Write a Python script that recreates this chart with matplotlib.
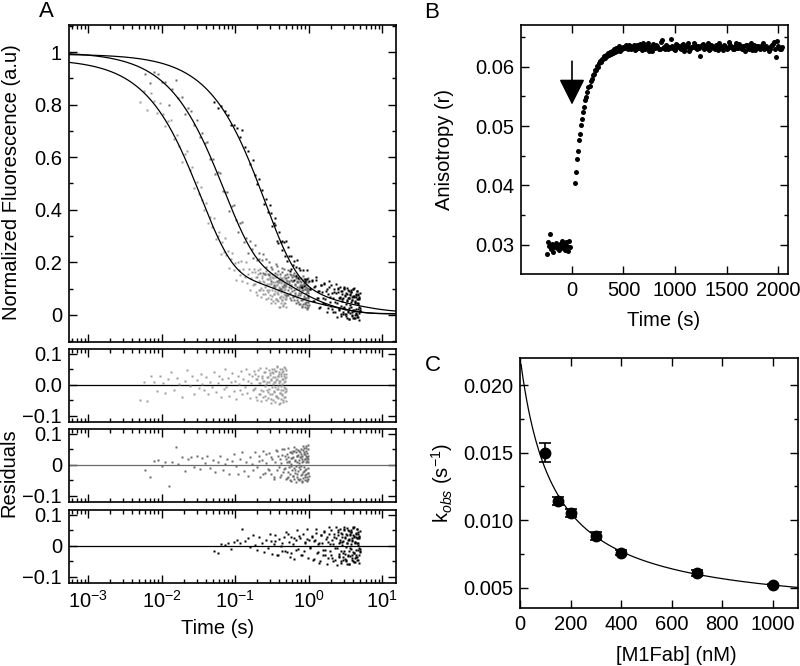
import numpy as np
from matplotlib import pyplot as plt
from matplotlib.ticker import LogLocator, MultipleLocator, NullFormatter

plt.rcParams['font.family'] = ['Liberation Sans', 'DejaVu Sans']
plt.rcParams['mathtext.fontset'] = 'custom'
plt.rcParams['mathtext.rm'] = 'Liberation Sans'
plt.rcParams['mathtext.it'] = 'Liberation Sans:italic'
plt.rcParams['font.size'] = 14.5
plt.rcParams['axes.linewidth'] = 1.2

# ---------------- Panel A : stopped-flow traces ----------------
# sample times (ms) and residuals (x 0.001)
t1_ms = [5.1, 5.8, 6.4, 7.2, 7.9, 8.6, 9.4, 10.3, 11.2, 12.4,
         13.5, 14.8, 16.1, 17.5, 19.0, 20.6, 22.3, 24.1, 26.0, 28.0,
         30, 32, 34, 36, 38, 40, 43, 46, 49, 52,
         55, 58, 61, 64, 67, 70, 73, 76, 80, 84,
         88, 92, 96, 100, 104, 108, 112, 116, 120, 125,
         130, 135, 140, 145, 150, 155, 160, 165, 170, 175,
         180, 186, 192, 198, 204, 210, 216, 222, 228, 234,
         240, 246, 252, 258, 264, 270, 276, 282, 288, 294,
         300, 305, 310, 315, 320, 325, 330, 335, 340, 345,
         350, 355, 360, 365, 370, 375, 380, 385, 390, 395,
         400, 405, 410, 415, 420, 425, 430, 435, 440, 445,
         450, 455, 460, 465, 470, 475, 480, 485, 490, 495,
         500,
         183, 189, 195, 201, 207, 213, 219, 225, 231, 237,
         243, 249, 255, 261, 267, 273, 279, 285, 291, 297,
         302, 307, 312, 317, 322, 327, 332, 337, 342, 347,
         352, 357, 362, 367, 372, 377, 382, 387, 392, 397,
         402, 407, 412, 417, 422, 427, 432, 437, 442, 447,
         452, 457, 462, 467, 472, 477, 482, 487, 492, 497]
res1 = [-50, 8, -52, 28, 10, -20, 30, 5, -25, 18,
        40, -15, 22, 2, -38, 12, 48, -5, 30, -28,
        15, -10, 35, 3, -18, 25, -30, 10, -8, 42,
        -22, 5, 30, -40, 18, -12, 50, -6, 22, -35,
        8, 38, -20, 14, -45, 28, 2, -15, 45, -30,
        20, -8, 52, -25, 12, 36, -42, 5, 28, -18,
        44, -10, 18, -48, 30, 6, -28, 55, -15, 22,
        -38, 12, 40, -5, -50, 25, 8, -22, 48, -12,
        32, -45, 15, 52, -30, 4, 38, -20, 10, -55,
        26, -8, 45, -35, 18, 58, -14, 30, -42, 6,
        40, -25, 12, -60, 34, -4, 50, -32, 20, -18,
        46, -48, 8, 28, -38, 55, -10, 22, -52, 36,
        -20,
        -12, 35, -40, 20, 48, -28, 6, -52, 30, 14,
        -20, 42, -35, 2, 55, -15, 26, -44, 10, 38,
        -30, 18, -58, 40, -6, 24, -48, 50, -22, 8,
        45, -36, 16, -12, 60, -40, 28, -4, -62, 34,
        12, -26, 52, -18, 30, -46, 4, 42, -30, 20,
        -54, 36, -8, 58, -24, 14, -40, 26, 48, -14]

t2_ms = [6.0, 7.0, 8.0, 9.0, 10.0, 11.2, 12.5, 14.0, 15.5, 17.0,
         19, 21, 23, 25, 27.5, 30, 33, 36, 39, 42,
         46, 50, 54, 58, 63, 68, 73, 78, 84, 90,
         96, 103, 110, 117, 125, 133, 141, 150, 159, 168,
         178, 188, 198, 209, 220, 231, 243, 255, 267, 280,
         293, 306, 320, 334, 348, 362, 376, 390, 405, 420,
         435, 450, 465, 480, 495, 510, 525, 540, 555, 570,
         585, 600, 615, 630, 645, 660, 675, 690, 705, 720,
         735, 750, 765, 780, 795, 810, 825, 840, 855, 870,
         885, 900, 912, 924, 936, 948, 960, 972, 984, 996,
         1000,
         215, 237, 261, 286, 313, 341, 369, 397, 412, 427,
         442, 457, 472, 487, 503, 509, 518, 524, 533, 539,
         548, 554, 563, 569, 578, 584, 593, 599, 608, 614,
         623, 629, 638, 644, 653, 659, 668, 674, 683, 689,
         698, 704, 713, 719, 728, 734, 743, 749, 758, 764,
         773, 779, 788, 794, 803, 809, 818, 824, 833, 839,
         848, 854, 863, 869, 878, 884, 893, 899, 906, 909,
         918, 921, 930, 933, 942, 945, 954, 957, 966, 969,
         978, 981, 990, 993, 998]
res2 = [-15, -38, 12, 15, -5, 8, -68, 10, 57, 3,
        25, -20, 18, 25, -8, 30, -12, 22, 5, 28,
        -10, 15, -22, 8, 30, -15, 2, 20, -28, 12,
        35, -5, -30, 18, 40, -20, 10, -35, 25, 4,
        -18, 42, -8, 30, -40, 15, 45, -25, 6, -12,
        38, -30, 20, -45, 10, 48, -15, 28, -38, 5,
        32, -22, 50, -10, 18, -42, 26, 8, -50, 40,
        -5, 22, -35, 45, -18, 12, 52, -28, 30, -45,
        15, -8, 40, -32, 25, -52, 8, 48, -20, 35,
        -40, 18, 55, -12, 30, -48, 22, 65, -25, 10,
        -35,
        12, -28, 36, -16, 24, -38, 44, -6, 20, -34,
        50, -12, 28, -46, 8, 36, -22, 54, -40, 14,
        -8, 42, -30, 22, -52, 4, 38, -18, 46, -36,
        26, -10, 58, -44, 16, -26, 40, -2, -54, 30,
        10, -38, 48, -20, 32, -50, 6, 44, -14, 24,
        -46, 52, -4, 36, -30, 18, -56, 28, 62, -22,
        12, -42, 40, -8, 56, -34, 20, -48, 34, -16,
        46, -28, 8, 60, -40, 24, -52, 14, 38, -26,
        52, -44, 18, 30, -10]

t3_ms = [52, 58, 65, 72, 80, 88, 96, 105, 115, 125,
         136, 148, 160, 173, 186, 200, 215, 230, 246, 262,
         280, 298, 316, 335, 355, 375, 396, 418, 440, 463,
         486, 510, 535, 560, 586, 612, 640, 670, 700, 730,
         760, 795, 830, 865, 900, 940, 980, 1020, 1060, 1100,
         1150, 1200, 1250, 1300, 1350, 1400, 1460, 1520, 1580, 1640,
         1700, 1760, 1820, 1880, 1940, 2000, 2070, 2140, 2210, 2280,
         2350, 2420, 2490, 2560, 2630, 2700, 2770, 2840, 2910, 2980,
         3050, 3120, 3190, 3260, 3330, 3400, 3470, 3540, 3610, 3680,
         3750, 3820, 3890, 3960, 4030, 4100, 4170, 4240, 4310, 4380,
         4450, 4520, 4590, 4660, 4730, 4800, 4870, 4940, 5000,
         1125, 1175, 1225, 1275, 1325, 1375, 1430, 1490, 1550, 1610,
         1670, 1730, 1790, 1850, 1910, 1970, 2035, 2105, 2175, 2245,
         2315, 2385, 2455, 2525, 2595, 2665, 2735, 2805, 2875, 2945,
         3015, 3085, 3155, 3225, 3295, 3365, 3435, 3505, 3575, 3645,
         3715, 3785, 3855, 3925, 3995, 4065, 4135, 4205, 4275, 4345,
         4415, 4485, 4555, 4625, 4695, 4765, 4835, 4905, 4970, 2540,
         2610, 2680, 2750, 2820, 2890, 2960, 3030, 3100, 3170, 3240,
         3310, 3380, 3450, 3520, 3590, 3660, 3730, 3800, 3870, 3940,
         4010, 4080, 4150, 4220, 4290, 4360, 4430, 4500, 4570, 4640,
         4710, 4780, 4850, 4920, 4985, 306, 345, 385, 429, 475,
         522, 573, 626, 685, 745, 812, 882, 960, 1040]
res3 = [-18, -22, 5, 2, 8, -10, 12, 20, 8, 55,
        15, 25, -5, 35, 2, -12, 30, 10, -20, 20,
        -8, 38, -25, 5, 15, -30, 22, 0, -15, 28,
        45, -20, 12, -35, 30, 5, -42, 18, 52, -10,
        25, -30, 40, -15, 8, 55, -38, 20, -5, 32,
        -45, 15, 42, -22, 6, -55, 35, 10, -28, 48,
        -12, 28, -40, 62, 5, -30, 20, -50, 38, -8,
        25, -62, 45, 10, -35, 55, -18, 30, -45, 15,
        60, -25, 38, -48, 8, 50, -30, 22, -58, 35,
        -10, 45, -40, 18, 58, -22, 30, -52, 12, 40,
        -35, 25, 55, -45, 8, 32, -28, 48, -15,
        30, -42, 18, 55, -20, 8, -50, 36, -12, 44,
        -30, 22, -58, 12, 40, -16, 50, -38, 6, 28,
        -46, 60, -8, 34, -26, 14, -54, 42, 2, -36,
        52, -18, 26, -44, 10, 58, -32, 20, -60, 38,
        -6, 46, -28, 16, -50, 34, 62, -22, 8, -40,
        30, -14, 54, -36, 4, 44, -56, 24, -10, 50,
        -32, 18, -48, 40, 12, -24, 56, -42, 28, -4,
        36, -58, 20, 48, -16, -34, 52, 6, -46, 26,
        60, -20, 32, -52, 14, 42, -30, 8, -44, 38,
        -12, 24, -6, 30, -20, 16, 34, -28, 10, -18,
        40, -24, 26, -14, 32, -30, 12, 22, -8]

# multi-exponential fits: a1, k1, a2, k2, a3, k3, offset
fit1 = [0.80, 30.0, 0.10, 3.0, 0.07, 0.45, 0.004]
fit2 = [0.765, 15.0, 0.14, 2.2, 0.09, 0.55, 0.005]
fit3 = [0.80, 4.2, 0.12, 1.2, 0.06, 0.20, 0.012]

# ---------------- Panel B : anisotropy ----------------
tb_pre = [-240, -230, -220, -210, -200, -190, -180, -170, -160, -150, -140, -130,
          -120, -110, -100, -90, -80, -70, -60, -50, -40, -30, -20]
rb_pre = [2850, 3050, 2980, 3180, 2930, 3010, 2880, 2970, 3030, 2950, 2990, 2910,
          3020, 2960, 3060, 2940, 3000, 2920, 3040, 2980, 2900, 3070, 2970]
tb_post = [30, 40, 50, 60, 70, 80, 90, 100, 110, 120,
           130, 140, 150, 160, 170, 180, 190, 200, 210, 220,
           230, 240, 250, 260, 270, 280, 290, 300, 310, 320,
           330, 340, 350, 360, 370, 380, 390, 400, 410, 420,
           430, 440, 450, 460, 470, 480, 490,
           500, 520, 540, 560, 580, 600, 620, 640, 660, 680,
           700, 720, 740, 760, 780, 800, 820, 840, 860, 880,
           900, 920, 940, 960, 980, 1000, 1020, 1040, 1060, 1080,
           1100, 1120, 1140, 1160, 1180, 1200, 1220, 1240, 1260, 1280,
           1300, 1320, 1340, 1360, 1380, 1400, 1420, 1440, 1460, 1480,
           1500, 1520, 1540, 1560, 1580, 1600, 1620, 1640, 1660, 1680,
           1700, 1720, 1740, 1760, 1780, 1800, 1820, 1840, 1860, 1880,
           1900, 1920, 1940, 1960, 1980, 2000, 2020, 2040,
           510, 530, 550, 570, 590, 610, 630, 650, 670, 690,
           710, 730, 750, 770, 790, 810, 830, 850, 870, 890,
           910, 930, 950, 970, 990, 1010, 1030, 1050, 1070, 1090,
           1110, 1130, 1150, 1170, 1190, 1210, 1230, 1250, 1270, 1290,
           1310, 1330, 1350, 1370, 1390, 1410, 1430, 1450, 1470, 1490,
           1510, 1530, 1550, 1570, 1590, 1610, 1630, 1650, 1670, 1690,
           1710, 1730, 1750, 1770, 1790, 1810, 1830, 1850, 1870, 1890,
           1910, 1930, 1950, 1970, 1990, 2010, 2030]
rb_post = [4040, 4230, 4440, 4580, 4760, 4870, 5020, 5110, 5240, 5320,
           5430, 5480, 5570, 5650, 5680, 5760, 5790, 5860, 5880, 5940,
           5950, 6010, 6000, 6060, 6090, 6070, 6130, 6120, 6170, 6150,
           6200, 6180, 6230, 6200, 6250, 6220, 6270, 6230, 6290, 6250,
           6310, 6260, 6300, 6340, 6270, 6320, 6290,
           6330, 6360, 6290, 6340, 6310, 6370, 6300, 6320, 6380, 6280,
           6350, 6310, 6390, 6330, 6270, 6340, 6360, 6300, 6410, 6320,
           6290, 6350, 6330, 6460, 6310, 6280, 6360, 6340, 6300, 6380,
           6320, 6350, 6270, 6330, 6400, 6310, 6340, 6180, 6360, 6300,
           6330, 6390, 6290, 6350, 6320, 6370, 6280, 6340, 6310, 6360,
           6300, 6420, 6330, 6290, 6350, 6310, 6380, 6320, 6340, 6270,
           6360, 6300, 6390, 6330, 6280, 6350, 6310, 6370, 6300, 6340,
           6320, 6290, 6360, 6410, 6160, 6340, 6300, 6330,
           6310, 6340, 6370, 6300, 6330, 6280, 6360, 6320, 6350, 6390,
           6300, 6340, 6270, 6330, 6380, 6310, 6350, 6290, 6440, 6330,
           6360, 6300, 6320, 6350, 6290, 6380, 6330, 6310, 6360, 6270,
           6340, 6400, 6300, 6330, 6360, 6290, 6320, 6350, 6380, 6310,
           6340, 6280, 6370, 6330, 6300, 6350, 6390, 6320, 6280, 6340,
           6310, 6360, 6330, 6290, 6400, 6320, 6350, 6300, 6340, 6370,
           6310, 6330, 6280, 6360, 6320, 6350, 6300, 6390, 6330, 6310,
           6270, 6340, 6380, 6300, 6430, 6320, 6290]

# ---------------- Panel C : kobs vs [M1Fab] ----------------
fab_nM = [100, 150, 200, 300, 400, 700, 1000]
kobs = [0.0150, 0.0114, 0.0105, 0.0088, 0.0076, 0.0061, 0.0052]
kobs_err = [0.0007, 0.0003, 0.0003, 0.0003, 0.0002, 0.0002, 0.0001]
kfit = [0.0030, 0.0191, 130.0]  # k_inf, amplitude, K


def multi_exp(t, p):
    a1, k1, a2, k2, a3, k3, c = p
    return a1 * np.exp(-k1 * t) + a2 * np.exp(-k2 * t) + a3 * np.exp(-k3 * t) + c


def style(ax):
    ax.tick_params(which='both', direction='in', top=True, right=True, width=1.0, pad=5)
    ax.tick_params(which='major', length=6)
    ax.tick_params(which='minor', length=3)


def log_x(ax):
    ax.set_xscale('log')
    ax.set_xlim(5.5e-4, 15.5)
    ax.xaxis.set_major_locator(LogLocator(base=10, numticks=12))
    ax.xaxis.set_minor_locator(LogLocator(base=10, subs=np.arange(2, 10), numticks=12))
    ax.xaxis.set_minor_formatter(NullFormatter())


fig = plt.figure(figsize=(8, 6.66), dpi=100)

traces = [(t1_ms, res1, fit1, '#9c9c9c', 'k'),
          (t2_ms, res2, fit2, '#6a6a6a', '#6a6a6a'),
          (t3_ms, res3, fit3, 'k', 'k')]

axA = fig.add_axes([0.08625, 0.4865, 0.40875, 0.476])
tt = np.logspace(np.log10(5.5e-4), np.log10(15.5), 400)
for t_ms, res, p, col, _ in traces:
    t = np.array(t_ms) / 1000.0
    r = np.array(res) / 1000.0
    axA.plot(t, multi_exp(t, p) + r, 's', ms=2.0, color=col, mec='none')
for t_ms, res, p, col, _ in traces:
    axA.plot(tt, multi_exp(tt, p), '-', color='k', lw=0.9)
log_x(axA)
axA.set_ylim(-0.103, 1.103)
axA.set_yticks([0, 0.2, 0.4, 0.6, 0.8, 1.0], ['0', '0.2', '0.4', '0.6', '0.8', '1'])
axA.yaxis.set_minor_locator(MultipleLocator(0.1))
style(axA)
axA.tick_params(labelbottom=False)

res_boxes = [[0.08625, 0.3664, 0.40875, 0.1096],
             [0.08625, 0.2462, 0.40875, 0.1097],
             [0.08625, 0.1246, 0.40875, 0.1096]]
res_labels = [['\u22120.1', '0.0', '0.1'], ['\u22120.1', '0', '0.1'], ['\u22120.1', '0', '0.1']]
for i, (t_ms, res, p, col, zcol) in enumerate(traces):
    ax = fig.add_axes(res_boxes[i])
    ax.axhline(0, color=zcol, lw=0.9)
    ax.plot(np.array(t_ms) / 1000.0, np.array(res) / 1000.0, 's', ms=2.1, color=col, mec='none')
    log_x(ax)
    ax.set_ylim(-0.12, 0.116)
    ax.set_yticks([-0.1, 0, 0.1], res_labels[i])
    ax.yaxis.set_minor_locator(MultipleLocator(0.05))
    style(ax)
    if i < 2:
        ax.tick_params(labelbottom=False)

fig.text(0.0146, 0.7267, 'Normalized Fluorescence (a.u)', rotation=90, ha='center', va='center')
fig.text(0.0115, 0.291, 'Residuals', rotation=90, ha='center', va='center')
fig.text(0.2725, 0.057, 'Time (s)', ha='center', va='center')

# panel B
axB = fig.add_axes([0.65125, 0.5886, 0.33375, 0.3739])
axB.plot(tb_pre, np.array(rb_pre) * 1e-5, 'o', ms=3.6, color='k', mec='none')
axB.plot(tb_post, np.array(rb_post) * 1e-5, 'o', ms=3.6, color='k', mec='none')
axB.annotate('', xy=(0, 0.0536), xytext=(0, 0.0609),
             arrowprops=dict(arrowstyle='-|>,head_length=0.8,head_width=0.4',
                             mutation_scale=20, color='k', lw=1.2, shrinkA=0, shrinkB=0))
axB.set_xlim(-495, 2097)
axB.set_ylim(0.0251, 0.0670)
axB.set_xticks([0, 500, 1000, 1500, 2000], ['0', '500', '1000', '1500', '2000'])
axB.set_yticks([0.03, 0.04, 0.05, 0.06], ['0.03', '0.04', '0.05', '0.06'])
axB.yaxis.set_minor_locator(MultipleLocator(0.005))
style(axB)
fig.text(0.556, 0.7748, 'Anisotropy (r)', rotation=90, ha='center', va='center')
fig.text(0.829, 0.5195, 'Time (s)', ha='center', va='center')

# panel C
axC = fig.add_axes([0.65, 0.0871, 0.3475, 0.3754])
xc = np.linspace(4, 1100, 300)
axC.plot(xc, kfit[0] + kfit[1] * kfit[2] / (kfit[2] + xc), 'k-', lw=0.9)
axC.errorbar(fab_nM, kobs, yerr=kobs_err, fmt='o', ms=7.5, color='k',
             capsize=4, elinewidth=1.2, capthick=1.2)
axC.set_xlim(0, 1100)
axC.set_ylim(0.0035, 0.0220)
axC.set_xticks([0, 200, 400, 600, 800, 1000], ['0', '200', '400', '600', '800', '1000'])
axC.set_yticks([0.005, 0.010, 0.015, 0.020], ['0.005', '0.010', '0.015', '0.020'])
axC.yaxis.set_minor_locator(MultipleLocator(0.0025))
style(axC)
fig.text(0.5525, 0.2748, r'k$_{obs}$ (s$^{\mathrm{-1}}$)', rotation=90, ha='center', va='center')
fig.text(0.846, 0.0165, '[M1Fab] (nM)', ha='center', va='center')

for x, y, s in [(0.0575, 0.982, 'A'), (0.54, 0.9805, 'B'), (0.541, 0.4505, 'C')]:
    fig.text(x, y, s, fontsize=16, ha='center', va='center')

fig.savefig('out.png', dpi=100)
